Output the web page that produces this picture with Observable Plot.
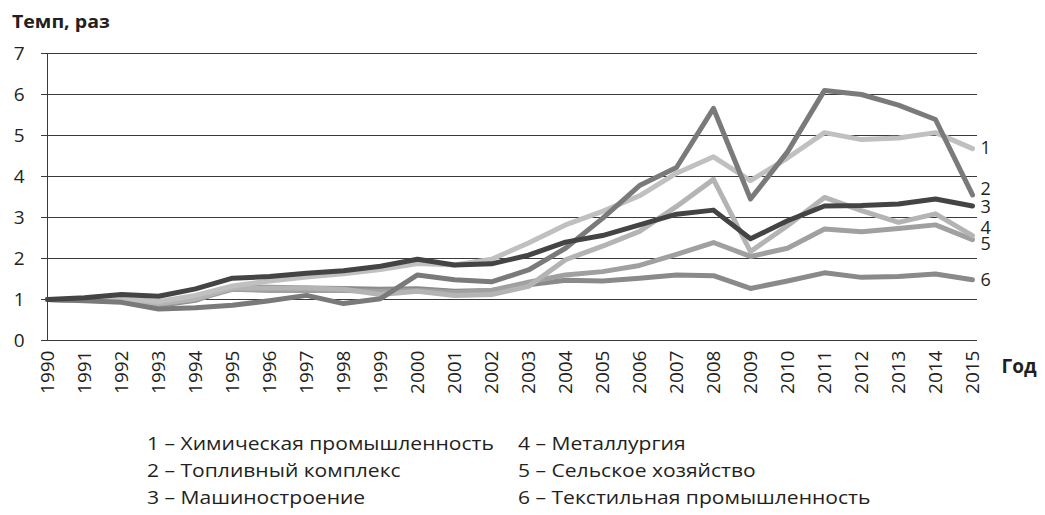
<!DOCTYPE html>
<html><head><meta charset="utf-8">
<script src="https://cdn.jsdelivr.net/npm/d3@7"></script>
<script src="https://cdn.jsdelivr.net/npm/@observablehq/plot@0.6"></script>
<style>
body{margin:0;background:#fff;font-family:"Open Sans",sans-serif;color:#231f20;}
#title{height:40px;padding-left:12px;font-weight:bold;font-size:17px;line-height:44px;}
#title span{display:inline-block;transform:scaleX(1.15);transform-origin:left center;}
#legend{display:grid;grid-template-columns:371px auto;margin-left:147px;margin-top:15px;font-size:18px;line-height:27px;}
#legend span{display:inline-block;white-space:nowrap;transform:scaleX(1.17);transform-origin:left center;}
</style></head><body>
<div id="title"><span>Темп, раз</span></div>
<div id="chart"></div>
<div id="legend"></div>
<script>
const years = [1990,1991,1992,1993,1994,1995,1996,1997,1998,1999,2000,2001,2002,2003,2004,2005,2006,2007,2008,2009,2010,2011,2012,2013,2014,2015];
const yTicks = [0,1,2,3,4,5,6,7];
const names = ["Химическая промышленность","Топливный комплекс","Машиностроение","Металлургия","Сельское хозяйство","Текстильная промышленность"];
const chem  = [1.00,0.99,1.03,0.95,1.10,1.33,1.45,1.55,1.63,1.73,1.88,1.84,1.98,2.38,2.82,3.15,3.53,4.08,4.48,3.90,4.45,5.07,4.90,4.94,5.07,4.68];
const fuel  = [1.00,0.97,0.93,0.77,0.80,0.86,0.97,1.10,0.90,1.02,1.60,1.48,1.43,1.72,2.25,2.98,3.78,4.22,5.66,3.45,4.60,6.10,6.00,5.74,5.39,3.55];
const mach  = [1.00,1.04,1.12,1.08,1.26,1.52,1.56,1.64,1.70,1.81,1.98,1.84,1.87,2.08,2.40,2.56,2.82,3.08,3.18,2.48,2.92,3.28,3.29,3.33,3.45,3.28];
const metal = [1.00,0.98,0.98,0.90,1.02,1.28,1.28,1.28,1.25,1.12,1.20,1.10,1.12,1.32,1.97,2.30,2.66,3.27,3.93,2.17,2.80,3.49,3.17,2.88,3.09,2.56];
const agri  = [1.00,0.98,0.97,0.88,1.00,1.25,1.22,1.22,1.22,1.20,1.22,1.17,1.22,1.42,1.60,1.68,1.83,2.10,2.39,2.05,2.25,2.72,2.65,2.73,2.82,2.46];
const text6 = [1.00,0.98,0.95,0.85,0.98,1.30,1.30,1.28,1.27,1.25,1.26,1.20,1.22,1.36,1.47,1.45,1.52,1.60,1.58,1.27,1.45,1.65,1.54,1.56,1.62,1.48];
const seriesValues = [chem, fuel, mach, metal, agri, text6];
const colors = ["#c0c0c0","#7a7a7a","#444444","#b4b4b4","#a0a0a0","#8a8a8a"];
const labelAt = [4.68,3.70,3.24,2.75,2.36,1.46];
const drawOrder = [5,4,3,0,1,2];

const lineMarks = drawOrder.map(i => Plot.line(
  years.map((y,j)=>({year:y, value:seriesValues[i][j]})),
  {x:"year", y:"value", stroke:colors[i], strokeWidth:5, strokeLinejoin:"round", strokeLinecap:"round"}
));
const labels = names.map((n,i)=>({year:2015, value:labelAt[i], num:String(i+1)}));

const chart = Plot.plot({
  width:1045, height:375, marginTop:13, marginBottom:75, marginLeft:41, marginRight:68,
  style:{fontFamily:"'Open Sans',sans-serif", fontSize:"19px", color:"#231f20", background:"#fff", overflow:"visible"},
  x:{type:"point", domain:years, padding:0, label:null},
  y:{domain:[0,7], label:null},
  marks:[
    Plot.ruleY(yTicks, {stroke:"#3a3a3a", strokeWidth:1}),
    Plot.ruleX([1990], {stroke:"#3a3a3a", strokeWidth:1}),
    Plot.axisY(yTicks, {tickSize:0, tickPadding:17, fontSize:19}),
    Plot.axisX(years, {tickSize:0, tickRotate:-90, tickPadding:10, tickFormat:d=>String(d), fontSize:19}),
    ...lineMarks,
    Plot.text(labels, {x:"year", y:"value", text:"num", dx:8, textAnchor:"start", fontSize:18, fill:"#231f20"}),
    Plot.text([{year:2015, value:0}], {x:"year", y:"value", text:()=> "Год", dx:29, dy:26, textAnchor:"start", fontSize:19, fontWeight:"bold", fill:"#231f20"})
  ]
});
document.getElementById("chart").appendChild(chart);

const leg = document.getElementById("legend");
const orderLegend = [0,3,1,4,2,5];
orderLegend.forEach(i=>{
  const d = document.createElement("div");
  const s = document.createElement("span");
  s.textContent = (i+1) + " – " + names[i];
  d.appendChild(s);
  leg.appendChild(d);
});
</script>
</body></html>
